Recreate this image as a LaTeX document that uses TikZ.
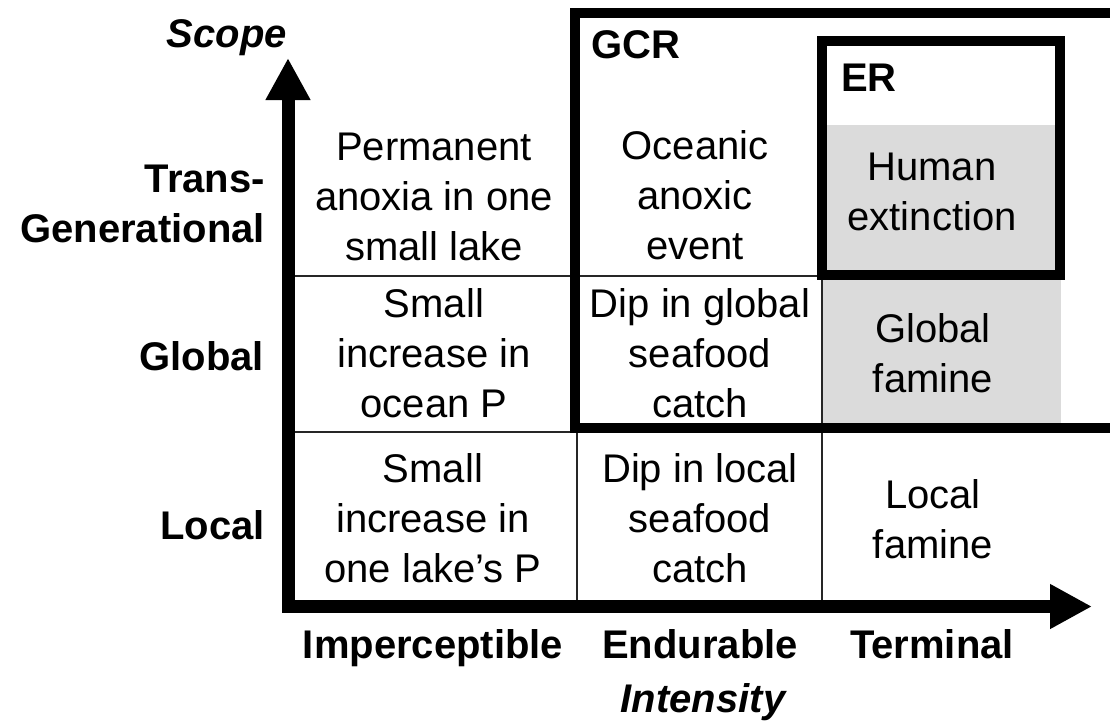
\documentclass[tikz,border=0pt]{standalone}
\usepackage{fontspec}
\setmainfont{Liberation Sans}
\usetikzlibrary{arrows.meta, positioning, calc}

\tikzset{
  cell/.style={align=center, font=\fontsize{40}{50}\selectfont, inner sep=0pt, anchor=base},
  lab/.style={font=\bfseries\fontsize{40}{50}\selectfont, inner sep=0pt},
  grid/.style={line width=1.5pt, black!85},
  region/.style={line width=10pt, line join=miter},
  axis/.style={line width=13pt, line join=miter,
    {Triangle[length=42pt,width=42pt]}-{Triangle[length=42pt,width=42pt]}},
}

\begin{document}
\begin{tikzpicture}[x=1pt, y=-1pt]
  \useasboundingbox (0,0) rectangle (1110,723);

  % grey cells
  \fill[gray!28] (822,125) rectangle (1061,428);

  % grid lines
  \coordinate (r1l) at (288,276);
  \coordinate (r1r) at (822,276);
  \coordinate (r2l) at (288,432);
  \coordinate (r2r) at (822,432);
  \coordinate (c1t) at (577,432);
  \coordinate (c1b) at (577,606);
  \coordinate (c2t) at (822,276);
  \coordinate (c2b) at (822,606);
  \draw[grid] (r1l) -- (r1r);
  \draw[grid] (r2l) -- (r2r);
  \draw[grid] (c1t) -- (c1b);
  \draw[grid] (c2t) -- (c2b);

  % axes
  \coordinate (ytip) at (288,58);
  \coordinate (xtip) at (1092,606.5);
  \draw[axis] (ytip) |- (xtip);

  % GCR and ER
  \draw[region] (1125,13) -- (575,13) -- (575,428) -- (1125,428);
  \draw[region] (822,41) rectangle (1060,275);
  \node[lab, anchor=base west] (gcr) at (591,58) {GCR};
  \node[lab, anchor=base west] (er) at (841,91) {ER};

  % cells (base = last line)
  \node[cell] (c11) at (434,260) {Permanent\\anoxia in one\\small lake};
  \node[cell] (c12) at (695,259) {Oceanic\\anoxic\\event};
  \node[cell] (c13) at (932,230) {Human\\extinction};
  \node[cell] (c21) at (434,417) {Small\\increase in\\ocean P};
  \node[cell] (c22) at (700,417) {Dip in global\\seafood\\catch};
  \node[cell] (c23) at (933,392) {Global\\famine};
  \node[cell] (c31) at (433,582) {Small\\increase in\\one lake’s P};
  \node[cell] (c32) at (700,582) {Dip in local\\seafood\\catch};
  \node[cell] (c33) at (933,558) {Local\\famine};

  % axis labels
  \node[lab, anchor=base] (scope) at (227,47) {\itshape Scope};
  \node[lab, anchor=base east, align=right] (trans) at (265,242) {Trans-\\Generational};
  \node[lab, anchor=base east] (glob) at (264,370) {Global};
  \node[lab, anchor=base east] (loc) at (265,539) {Local};
  \node[lab, anchor=base] (imp) at (433,658) {Imperceptible};
  \node[lab, anchor=base] (endu) at (700,658) {Endurable};
  \node[lab, anchor=base] (term) at (932,658) {Terminal};
  \node[lab, anchor=base] (inten) at (703,712) {\itshape Intensity};
\end{tikzpicture}
\end{document}
